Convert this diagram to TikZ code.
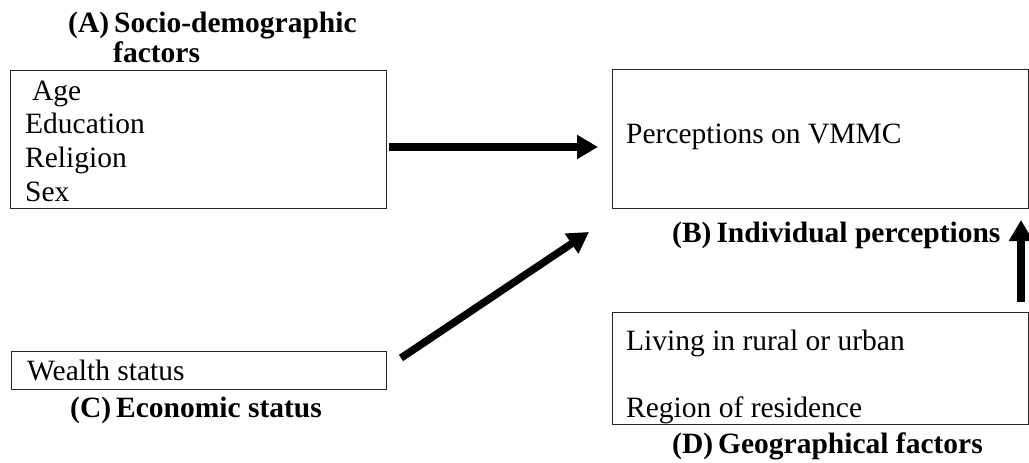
\documentclass[tikz,border=0pt]{standalone}
\usepackage{fontspec}
\setmainfont{Liberation Serif}
\usetikzlibrary{arrows.meta}
\begin{document}
\begin{tikzpicture}[x=1pt,y=-1pt,
  box/.style={draw=black!85, line width=1.2pt, inner sep=0pt, anchor=north west},
  txt/.style={inner sep=0pt, anchor=base west, font=\fontsize{29.5}{33}\selectfont},
  lab/.style={txt, font=\fontsize{29.5}{33}\selectfont\bfseries},
  arr/.style={line width=7.5pt, -{Triangle[width=23pt,length=21pt]}}]
\useasboundingbox (0,0) rectangle (1029,463);
% boxes
\node[box, minimum width=376pt, minimum height=138pt] (boxA) at (10,70) {};
\node[box, minimum width=415.5pt, minimum height=139pt] (boxB) at (612,69) {};
\node[box, minimum width=375pt, minimum height=38pt] (boxC) at (11,351) {};
\node[box, minimum width=415.5pt, minimum height=112pt] (boxD) at (612,312) {};
% box texts
\node[txt] (age) at (32,100) {Age};
\node[txt] (edu) at (25,133) {Education};
\node[txt] (rel) at (25,167) {Religion};
\node[txt] (sex) at (25,201) {Sex};
\node[txt] (perc) at (626,143) {Perceptions on VMMC};
\node[txt] (wealth) at (27,380) {Wealth status};
\node[txt] (living) at (626,350) {Living in rural or urban};
\node[txt] (region) at (626,417) {Region of residence};
% labels
\node[lab] (labA1) at (68,32) {(A)\hspace{5pt}Socio-demographic};
\node[lab] (labA2) at (113,62) {factors};
\node[lab] (labB) at (672,242) {(B)\hspace{5pt}Individual perceptions};
\node[lab] (labC) at (70,417) {(C)\hspace{5pt}Economic status};
\node[lab] (labD) at (672,453) {(D)\hspace{5pt}Geographical factors};
% arrow end points
\coordinate (a1s) at (389,147);
\coordinate (a1e) at (598,147);
\coordinate (a2s) at (401,358);
\coordinate (a2e) at (589,232);
\coordinate (a3s) at (1021,302);
\coordinate (a3e) at (1021,220);
\draw[arr] (a1s) -- (a1e);
\draw[arr] (a2s) -- (a2e);
\draw[arr] (a3s) -- (a3e);
\end{tikzpicture}
\end{document}
